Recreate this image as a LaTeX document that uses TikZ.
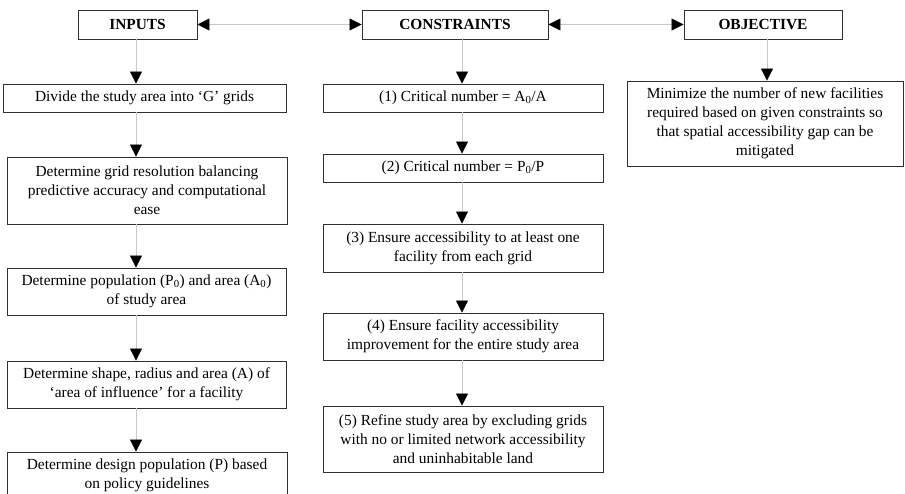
\documentclass[tikz,border=0pt]{standalone}
\usepackage{fontspec}
\setmainfont{Liberation Serif}
\usetikzlibrary{arrows.meta}
\definecolor{conn}{HTML}{C8C8C8}
\definecolor{edge}{HTML}{303030}
\tikzset{
  box/.style={draw=edge, line width=0.9pt, inner sep=0pt, align=center,
    font=\fontsize{15.4}{19}\selectfont},
  head/.style={box, font=\fontsize{15.4}{19}\selectfont\bfseries},
  tip/.style={Triangle[length=12pt,width=12pt,color=black]},
  link/.style={draw=conn, line width=0.8pt, -{Triangle[length=12pt,width=12pt,color=black]}},
  dlink/.style={draw=conn, line width=0.8pt, {Triangle[length=12pt,width=12pt,color=black]}-{Triangle[length=12pt,width=12pt,color=black]}}
}
\begin{document}
\begin{tikzpicture}[x=1pt,y=-1pt]
\useasboundingbox (0,0) rectangle (905,493);
\clip (0,0) rectangle (905,493);
% headers
\node[head, minimum width=119pt, minimum height=29pt] (inputs) at (137.5,24.5) {INPUTS};
\node[head, minimum width=186pt, minimum height=29pt] (constraints) at (455,24.5) {CONSTRAINTS};
\node[head, minimum width=158pt, minimum height=29pt] (objective) at (763,24.5) {OBJECTIVE};
% inputs column
\node[box, minimum width=283pt, minimum height=28pt] (divide) at (144.5,98) {Divide the study area into ‘G’ grids};
\node[box, minimum width=280pt, minimum height=67pt] (gridres) at (147,190.5) {Determine grid resolution balancing\\predictive accuracy and computational\\ease};
\node[box, minimum width=279pt, minimum height=47pt] (pop) at (146.5,291.5) {Determine population (P\textsubscript{0}) and area (A\textsubscript{0})\\of study area};
\node[box, minimum width=279pt, minimum height=47pt] (shape) at (146.5,384.5) {Determine shape, radius and area (A) of\\‘area of influence’ for a facility};
\node[box, minimum width=280pt, minimum height=47pt] (design) at (147,475.5) {Determine design population (P) based\\on policy guidelines};
% constraints column
\node[box, minimum width=280pt, minimum height=28pt] (c1) at (463,98) {(1) Critical number = A\textsubscript{0}/A};
\node[box, minimum width=280pt, minimum height=28pt] (c2) at (463,168) {(2) Critical number = P\textsubscript{0}/P};
\node[box, minimum width=280pt, minimum height=48pt] (c3) at (463,248) {(3) Ensure accessibility to at least one\\facility from each grid};
\node[box, minimum width=280pt, minimum height=47pt] (c4) at (463,336.5) {(4) Ensure facility accessibility\\improvement for the entire study area};
\node[box, minimum width=280pt, minimum height=66pt] (c5) at (463,439) {(5) Refine study area by excluding grids\\with no or limited network accessibility\\and uninhabitable land};
% objective
\node[box, minimum width=276pt, minimum height=85pt] (obj) at (765,123.5) {Minimize the number of new facilities\\required based on given constraints so\\that spatial accessibility gap can be\\mitigated};
% column x positions
\coordinate (xi) at (136,0);
\coordinate (xc) at (462,0);
\coordinate (xo) at (767,0);
% horizontal links
\draw[dlink] (inputs.east) -- (constraints.west);
\draw[dlink] (constraints.east) -- (objective.west);
% inputs links
\draw[link] (inputs.south -| xi) -- (divide.north -| xi);
\draw[link] (divide.south -| xi) -- (gridres.north -| xi);
\draw[link] (gridres.south -| xi) -- (pop.north -| xi);
\draw[link] (pop.south -| xi) -- (shape.north -| xi);
\draw[link] (shape.south -| xi) -- (design.north -| xi);
% constraints links
\draw[link] (constraints.south -| xc) -- (c1.north -| xc);
\draw[link] (c1.south -| xc) -- (c2.north -| xc);
\draw[link] (c2.south -| xc) -- (c3.north -| xc);
\draw[link] (c3.south -| xc) -- (c4.north -| xc);
\draw[link] (c4.south -| xc) -- (c5.north -| xc);
% objective link
\draw[link] (objective.south -| xo) -- (obj.north -| xo);
\end{tikzpicture}
\end{document}
